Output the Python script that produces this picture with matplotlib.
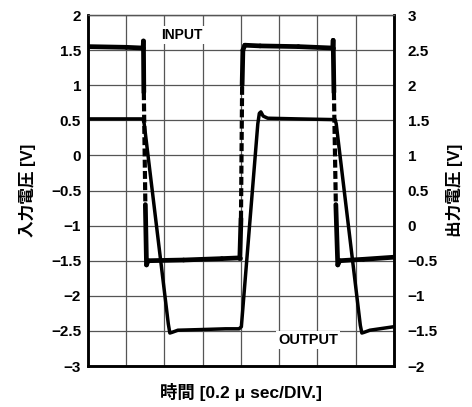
import matplotlib
matplotlib.use("Agg")
import matplotlib.pyplot as plt
from matplotlib.ticker import FuncFormatter, MultipleLocator

plt.rcParams['font.family'] = ['Liberation Sans', 'Noto Sans CJK JP']
plt.rcParams['font.weight'] = 'bold'

# time axis in divisions (0.2 us / div)
in_t = [0.0, 1.0, 1.42, 1.44, 1.45, 1.46, 1.50, 1.53, 1.57, 2.5, 3.5, 3.95,
        3.97, 4.00, 4.03, 4.05, 4.10, 4.5, 5.5, 6.38, 6.40, 6.41, 6.43, 6.48,
        6.53, 6.58, 7.2, 8.0]
in_v = [1.55, 1.54, 1.53, 1.53, 1.63, 0.90, -0.70, -1.56, -1.50, -1.49, -1.47,
        -1.46, -1.46, -0.90, 1.00, 1.50, 1.57, 1.56, 1.55, 1.53, 1.53, 1.64,
        0.90, -0.70, -1.56, -1.50, -1.48, -1.45]

out_t = [0.0, 1.0, 1.44, 1.47, 2.10, 2.14, 2.20, 2.35, 3.0, 3.6, 3.95, 4.01,
         4.44, 4.48, 4.52, 4.58, 4.70, 5.5, 6.46, 6.49, 7.12, 7.16, 7.22,
         7.37, 8.0]
out_v = [1.52, 1.52, 1.52, 1.45, -1.40, -1.53, -1.52, -1.49, -1.48, -1.47,
         -1.47, -1.44, 1.45, 1.60, 1.62, 1.56, 1.53, 1.52, 1.51, 1.45, -1.42,
         -1.53, -1.52, -1.49, -1.44]

fig = plt.figure(figsize=(4.72, 4.07), dpi=100)
ax = fig.add_axes([0.1864, 0.1007, 0.6483, 0.8624])
ax2 = ax.twinx()

ax.set_xlim(0, 8)
ax.set_ylim(-3, 2)
ax2.set_ylim(-2, 3)
ax.xaxis.set_major_locator(MultipleLocator(1))
ax.yaxis.set_major_locator(MultipleLocator(0.5))
ax2.yaxis.set_major_locator(MultipleLocator(0.5))

fmt = FuncFormatter(lambda v, p: ('%g' % v).replace('-', '\u2212'))
ax.yaxis.set_major_formatter(fmt)
ax2.yaxis.set_major_formatter(fmt)
ax.set_xticklabels([])
ax.tick_params(axis='x', length=0)
ax.tick_params(axis='y', length=0, pad=5, labelsize=11)
ax2.tick_params(axis='y', length=0, pad=10, labelsize=11)

ax.set_axisbelow(True)
ax.grid(True, color='#555555', lw=0.9)

for a in (ax, ax2):
    for side in ('left', 'bottom', 'right'):
        a.spines[side].set_linewidth(1.8)
        a.spines[side].set_color('black')
    a.spines['top'].set_linewidth(0.9)
    a.spines['top'].set_color('#555555')

# input trace: steep middle part of each edge is drawn dashed
for i in range(len(in_t) - 1):
    t0, t1 = in_t[i], in_t[i + 1]
    v0, v1 = in_v[i], in_v[i + 1]
    steep = abs(v1 - v0) > 20 * abs(t1 - t0)
    mid = -0.95 <= min(v0, v1) and max(v0, v1) <= 1.05
    if steep and mid:
        ax.plot([t0, t1], [v0, v1], color='black', lw=3.0,
                ls=(0, (1.9, 0.8)), dash_capstyle='butt', zorder=3)
    else:
        ax.plot([t0, t1], [v0, v1], color='black', lw=3.4,
                solid_capstyle='round', zorder=3)

ax2.plot(out_t, out_v, color='black', lw=2.5, solid_joinstyle='round')

ax.text(2.46, 1.72, 'INPUT', fontsize=10, fontweight='bold', ha='center',
        va='center', zorder=2.5,
        bbox=dict(facecolor='white', edgecolor='none', pad=1.5))
ax.text(5.75, -2.63, 'OUTPUT', fontsize=10.5, fontweight='bold', ha='center',
        va='center', zorder=2.5,
        bbox=dict(facecolor='white', edgecolor='none', pad=1.5))

ax.set_ylabel('入力電圧 [V]', fontsize=12, fontweight='bold', labelpad=11)
ax2.set_ylabel('出力電圧 [V]', fontsize=12, fontweight='bold', rotation=90,
               labelpad=6)
ax.set_xlabel('時間 [0.2 μ sec/DIV.]', fontsize=12.5, fontweight='bold',
              labelpad=9)

fig.savefig('out.png', dpi=100)
